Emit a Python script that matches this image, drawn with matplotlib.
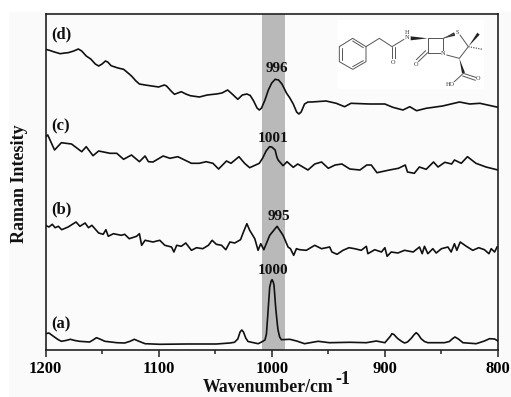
import matplotlib
matplotlib.use("Agg")
import matplotlib.pyplot as plt
from matplotlib.patches import Rectangle, Polygon

plt.rcParams["font.family"] = ["Liberation Serif", "DejaVu Serif"]
plt.rcParams["font.weight"] = "bold"

# spectra (wavenumber, intensity with offset)
wn_a = [1200,1197,1193,1189,1186,1182,1178,1174,1170,1161,1158,1155,1152,1147.5,1137,1130,1125,1121.5,1118,1112,1099,1075,1049,1037,1033,1030,1028,1026.5,1025,1023,1021,1012,1009,1006,1004.7,1003.5,1001.8,1000.5,999.7,998.7,998,996.5,995,994.4,993,991.5,984,978,971,959,949,931,916.4,907.6,900,897,895,893.8,892,890,888.5,885,882.6,880,876.7,874,872.3,870.5,868,865,862,847.3,843,840,838,835,831,819.3,812,807.5,803,800]
i_a = [16.3,17,13.7,10.5,8.7,9.5,10.7,9.5,8.7,8,10,12.3,11,8.7,7.3,7,8.8,10.7,9,6.3,5.7,6,6,7,7.7,11,18,20,18,12,8.5,6.3,8,10,16,35,63,69,70.3,68,64.7,42,25,19.7,13,10.3,10.7,9,6.3,8.7,7.3,7.7,7.3,9,7.3,11.3,14,16.3,15.5,13,11.3,8.5,7,8,11.7,15.5,17.3,15.5,11.3,8.5,7.3,7.3,8.5,11.5,13,11,7.3,6.3,9,11.3,11,9]

wn_b = [1200,1197,1194,1191.5,1188.6,1185.7,1180,1173,1169.6,1165,1162,1159,1153,1149,1146.6,1144.5,1140,1133,1130,1126,1119.5,1117,1115,1112,1105,1099,1094.5,1088.6,1086.5,1084,1080,1076,1071,1066.5,1061,1056,1052.7,1049,1044.4,1040.6,1037,1032.7,1027.6,1025,1022,1019.5,1015,1012.1,1009.7,1007,1001.8,995.3,990,985.6,983.5,980.6,978.2,975.3,969.4,962,956,948.8,946.8,942.3,937,931.7,926.7,920.9,916.4,915,909,903,900,898,894.4,888.5,882.6,875,869.4,867,865,862,857.6,854.6,850,844.3,841.4,838.5,836.4,833.4,828,822.3,817,812,808,806,803,800.8]
i_b = [124.7,123,125.7,122.3,123.7,120.3,123,128,123.7,127,122.3,124.7,117,115.7,120.3,113.7,116.3,114.7,115.7,111.3,113.7,116.3,104.7,109.7,108,109.7,104.7,103,98,104.7,103.7,107,99.7,102.3,101.3,104.7,109.7,105.7,104.7,100.3,108,107,110.3,118,126.3,119.7,111.3,99.7,106.3,100.3,114.7,123.7,114.7,103,101.3,94.7,101.3,100.3,99.7,104.7,101.3,103,98,95.7,99.7,102.3,101.3,99.7,103.7,96.3,100.3,98,102.3,93.7,98,97,99.7,98,103,96.3,103.7,96.3,101.3,97,101.3,103,98,106.3,99.7,108,103.7,99.7,102.3,100.3,96.3,101.3,98,103]

wn_c = [1200,1198,1192,1186,1177,1168,1164,1158,1153,1143,1137,1131,1124,1117,1112,1109,1105,1096,1090,1083,1071,1064,1058,1052,1047,1040,1036,1029,1024,1019.5,1011,1008,1005,1002,1000,997,995.5,994.4,990,986.5,981,977,968,962,956,950,944,938,931,922,916,912,907,896,888,882,880,874,869.5,863.5,857,853,847,841,838.5,832.5,827,819.5,810.6,800]
i_c = [213,215,200,207.3,206,198.3,203.3,194.3,199,196.7,196.7,190.7,195,188.3,194,188.3,188,194,191.7,193.3,186.7,186.7,188.3,186.7,181,189,186.7,193.3,186.7,182.3,186.7,192,199,203.3,203,200,193,190,184.3,188.3,182.7,186,180,186,188,181.7,185,186,181,180,185,185,177.3,180,181.7,185,178,176.7,183,180.7,188,183,187.7,186,190,186.7,193.3,186.7,183,180]

wn_d = [1200,1196,1193,1187,1183,1180,1175,1171,1168,1164,1160,1156,1153,1150,1147,1145,1142,1136,1131,1127,1124,1120,1117,1112,1106,1100,1095,1093,1089,1086,1080,1076,1072,1064,1057,1049,1044,1039,1035,1030,1026,1022,1019,1016,1013,1011,1009,1006,1003,1000,997,994,991,987,984,981,978,976,974,971,968,965,952,943,935.6,930,913.6,900,893,884,878,872,863.5,849,834,825,816,800]
i_d = [300.7,299.5,298.3,296.3,297,297.3,299,301,299,294,291,286,284,286,289,288,284.3,282,280.7,277,274,269,266,265,264,263,265,264,259,255.7,258.3,256,254.3,253,255,256,257,260,256,250.7,255,256,254.5,249,242,240,242,250,260,267,270.7,270,266,257,252,246,238,236,238,246,248,248,249,246.7,243.3,246.7,246,246,242.7,240,243.3,239.3,241.7,244,248,246,246.7,242.7]

band = [1009, 988.6]
xticks_major = [1200, 1100, 1000, 900, 800]
xticks_minor = [1150, 1050, 950, 850]

W, H = 511, 397
fig = plt.figure(figsize=(W/100, H/100), dpi=100, facecolor="white")
fig.add_artist(Rectangle((9/W, 0), 1-9/W, 1-12/H, transform=fig.transFigure, fc="#fafafa", ec="none", zorder=-5))

ax = fig.add_axes([45.5/W, 1-350/H, 452.5/W, 336.5/H], facecolor="#fbfbfb")
ax.axvspan(band[0], band[1], color="#b9b9b9", lw=0, zorder=1)
for wn, inten in [(wn_a, i_a), (wn_b, i_b), (wn_c, i_c), (wn_d, i_d)]:
    ax.plot(wn, inten, color="#111111", lw=1.2, zorder=3, solid_joinstyle="round")

ax.set_xlim(1200, 800)
ax.set_ylim(0, 336.5)
ax.set_yticks([])
ax.set_xticks(xticks_major)
ax.set_xticks(xticks_minor, minor=True)
ax.tick_params(axis="x", which="major", length=5, width=1.1, labelsize=12, pad=3, color="#222222")
ax.tick_params(axis="x", which="minor", length=3, width=1.1, color="#222222")
for s in ax.spines.values():
    s.set_linewidth(1.2)
    s.set_color("#222222")

for label, y in [("(d)", 316), ("(c)", 224), ("(b)", 141), ("(a)", 26)]:
    ax.text(1195, y, label, fontsize=12, ha="left", va="center", color="#111111", zorder=4)
for label, x, y in [("996", 995.6, 282), ("1001", 999, 211), ("995", 994, 134), ("1000", 999, 79)]:
    ax.text(x, y, label, fontsize=11, ha="center", va="center", color="#111111", zorder=4)

fig.text(20/W, 1-184/H, "Raman Intesity", rotation=90, fontsize=13, ha="center", va="center", color="#111111")
fig.text(333/W, 1-387/H, "Wavenumber/cm", fontsize=12.8, ha="right", va="center", color="#111111")
fig.text(335/W, 1-380/H, "-1", fontsize=13, ha="left", va="center", color="#111111")

# penicillin structure inset
mol = fig.add_axes([330/W, 1-100/H, 160/W, 90/H], facecolor="none", zorder=5)
mol.set_xlim(0, 480)
mol.set_ylim(270, 0)
mol.axis("off")
mol.add_patch(Rectangle((24, 30), 438, 208, fc="white", ec="none"))
gray = "#555555"
bonds = [
    [(28,110),(68,85),(108,110),(108,155),(68,178),(28,155),(28,110)],
    [(36,114),(36,151)], [(68,93),(100,113)], [(68,170),(100,152)],
    [(108,110),(148,85),(186,110),(222,88)],
    [(186,110),(186,148)], [(194,110),(194,148)],
    [(293,85),(340,85),(340,122)], [(293,85),(293,128),(332,128)],
    [(293,128),(265,155)], [(287,122),(259,149)],
    [(390,75),(415,110),(388,145),(350,135)],
    [(340,85),(372,72)],
    [(400,190),(440,203)], [(398,198),(436,211)], [(400,190),(372,216)],
]
for b in bonds:
    mol.plot([p[0] for p in b], [p[1] for p in b], color=gray, lw=0.7, solid_capstyle="round")
wedges = [
    [(293,85),(242,79),(242,91)],
    [(340,85),(372,67),(376,77)],
    [(415,110),(442,68),(449,74)],
    [(388,145),(396,190),(405,188)],
]
for w in wedges:
    mol.add_patch(Polygon(w, fc="#222222", ec="none"))
mol.plot([415,458], [110,118], color=gray, lw=0.9, ls=(0, (1, 1)))
for t, x, y in [("H", 232, 66), ("N", 232, 82), ("O", 190, 156), ("O", 258, 165), ("N", 340, 130), ("S", 382, 69), ("O", 445, 205), ("HO", 360, 225)]:
    mol.text(x, y, t, fontsize=4.5, fontweight="normal", ha="center", va="center", color="#333333",
             bbox=dict(fc="white", ec="none", pad=0.2))

fig.savefig("out.png", dpi=100)
